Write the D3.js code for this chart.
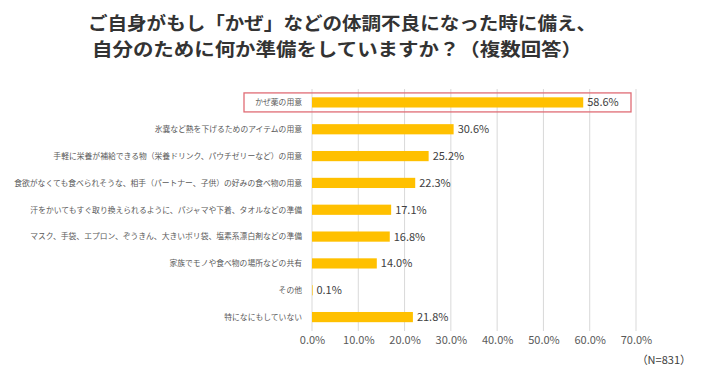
<!DOCTYPE html>
<meta charset="utf-8">
<style>
    body { margin: 0; background: #fff; }
    svg text { font-family: "Noto Sans CJK JP", "Noto Sans", sans-serif; }
</style>
<svg width="705" height="373"></svg>
<script src="https://d3js.org/d3.v7.min.js"></script>
<script>

    var titleLines = [
        "ご自身がもし「かぜ」などの体調不良になった時に備え、",
        "自分のために何か準備をしていますか？（複数回答）"
    ];

    var categories = [
        "かぜ薬の用意",
        "氷嚢など熱を下げるためのアイテムの用意",
        "手軽に栄養が補給できる物（栄養ドリンク、パウチゼリーなど）の用意",
        "食欲がなくても食べられそうな、相手（パートナー、子供）の好みの食べ物の用意",
        "汗をかいてもすぐ取り換えられるように、パジャマや下着、タオルなどの準備",
        "マスク、手袋、エプロン、ぞうきん、大きいポリ袋、塩素系漂白剤などの準備",
        "家族でモノや食べ物の場所などの共有",
        "その他",
        "特になにもしていない"
    ];

    var values = [58.6, 30.6, 25.2, 22.3, 17.1, 16.8, 14.0, 0.1, 21.8];

    var xTicks = [0, 10, 20, 30, 40, 50, 60, 70];

    var note = "（N=831）";

    var svg = d3.select("svg");

    var x = d3.scaleLinear()
        .domain([0, 70])
        .range([312, 636]);

    var y = d3.scaleBand()
        .domain(categories)
        .range([89, 330.5])
        .paddingInner(0.62)
        .paddingOuter(0.31);

    // title, two lines
    svg.append("g")
        .selectAll("text")
        .data(titleLines)
        .enter().append("text")
        .attr("x", function(d, i) { return i == 0 ? 88 : 92; })
        .attr("y", function(d, i) { return i == 0 ? 29.5 : 55.5; })
        .attr("textLength", function(d, i) { return i == 0 ? 508 : 490; })
        .attr("lengthAdjust", "spacingAndGlyphs")
        .attr("font-size", 18)
        .attr("font-weight", "bold")
        .attr("fill", "#333")
        .text(function(d) { return d; });

    // gridlines
    svg.append("g")
        .attr("class", "grid")
        .selectAll("line")
        .data(xTicks)
        .enter().append("line")
        .attr("x1", function(d) { return x(d); })
        .attr("x2", function(d) { return x(d); })
        .attr("y1", 89)
        .attr("y2", 331)
        .attr("stroke", "#d9d9d9")
        .attr("stroke-width", 1);

    // x axis labels
    var xAxis = d3.axisBottom(x)
        .tickValues(xTicks)
        .tickSize(0)
        .tickPadding(0)
        .tickFormat(function(d) { return d.toFixed(1) + "%"; });

    var xg = svg.append("g")
        .attr("transform", "translate(0,336)")
        .call(xAxis);
    xg.select(".domain").remove();
    xg.selectAll("text")
        .attr("font-family", "Noto Sans")
        .attr("font-size", 11)
        .attr("fill", "#595959");

    // bars
    svg.append("g")
        .selectAll("rect")
        .data(values)
        .enter().append("rect")
        .attr("x", x(0))
        .attr("y", function(d, i) { return y(categories[i]); })
        .attr("width", function(d) { return Math.max(0.6, x(d) - x(0)); })
        .attr("height", y.bandwidth())
        .attr("fill", "#ffc000");

    // value labels
    svg.append("g")
        .selectAll("text")
        .data(values)
        .enter().append("text")
        .attr("x", function(d) { return x(d) + 4; })
        .attr("y", function(d, i) { return y(categories[i]) + y.bandwidth() / 2; })
        .attr("dy", "0.36em")
        .attr("font-family", "Noto Sans")
        .attr("font-size", 11)
        .attr("fill", "#404040")
        .text(function(d) { return d.toFixed(1) + "%"; });

    // category labels
    svg.append("g")
        .attr("class", "cat")
        .selectAll("text")
        .data(categories)
        .enter().append("text")
        .attr("x", 302)
        .attr("y", function(d) { return y(d) + y.bandwidth() / 2; })
        .attr("dy", "0.36em")
        .attr("text-anchor", "end")
        .attr("font-size", 7.8)
        .attr("fill", "#595959")
        .text(function(d) { return d; });

    // highlight box round the top row
    svg.append("rect")
        .attr("x", 244)
        .attr("y", y(categories[0]) + y.bandwidth() / 2 - 9.5)
        .attr("width", 631 - 244)
        .attr("height", 19)
        .attr("fill", "none")
        .attr("stroke", "#e06c75")
        .attr("stroke-width", 1.3);

    svg.append("text")
        .attr("x", 691)
        .attr("y", 364)
        .attr("text-anchor", "end")
        .attr("font-size", 11)
        .attr("fill", "#404040")
        .text(note);

</script>
